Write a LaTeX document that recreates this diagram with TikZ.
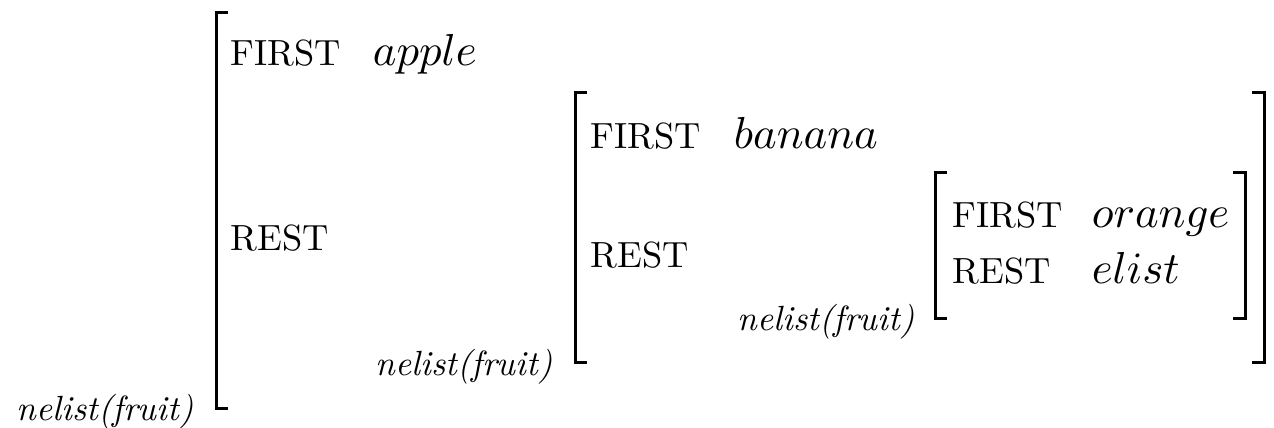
\documentclass[tikz,border=0pt]{standalone}
\begin{document}
\begin{tikzpicture}[x=0.5pt,y=-0.5pt,
  attr/.style={inner sep=0pt, anchor=base west, scale=1.82, font=\normalsize},
  val/.style={inner sep=0pt, anchor=base west, scale=2.24, font=\normalsize},
  sort/.style={inner sep=0pt, anchor=base west, scale=1.75, font=\normalsize\itshape},
  brk/.style={line width=1.5pt, line join=miter}]
\useasboundingbox (0,0) rectangle (1274,428);

% outer structure
\node[sort] (t1) at (16,420) {nelist(fruit)};
\node[attr] (f1) at (230,65) {FIRST};
\node[val]  (v1) at (372,65) {$apple$};
\node[attr] (r1) at (230,250) {REST};
\draw[brk] (228,12) -- (216,12) -- (216,408) -- (228,408);

% middle structure
\node[sort] (t2) at (375,375) {nelist(fruit)};
\node[attr] (f2) at (590,148) {FIRST};
\node[val]  (v2) at (733,148) {$banana$};
\node[attr] (r2) at (590,267) {REST};
\draw[brk] (587,92) -- (575,92) -- (575,362) -- (587,362);
\draw[brk] (1252,92) -- (1264,92) -- (1264,362) -- (1252,362);

% inner structure
\node[sort] (t3) at (737,330) {nelist(fruit)};
\node[attr] (f3) at (952,227) {FIRST};
\node[val]  (v3) at (1091,227) {$orange$};
\node[attr] (r3) at (952,283) {REST};
\node[val]  (v4) at (1091,283) {$elist$};
\draw[brk] (947,172) -- (935,172) -- (935,318) -- (947,318);
\draw[brk] (1233,172) -- (1245,172) -- (1245,318) -- (1233,318);
\end{tikzpicture}
\end{document}
